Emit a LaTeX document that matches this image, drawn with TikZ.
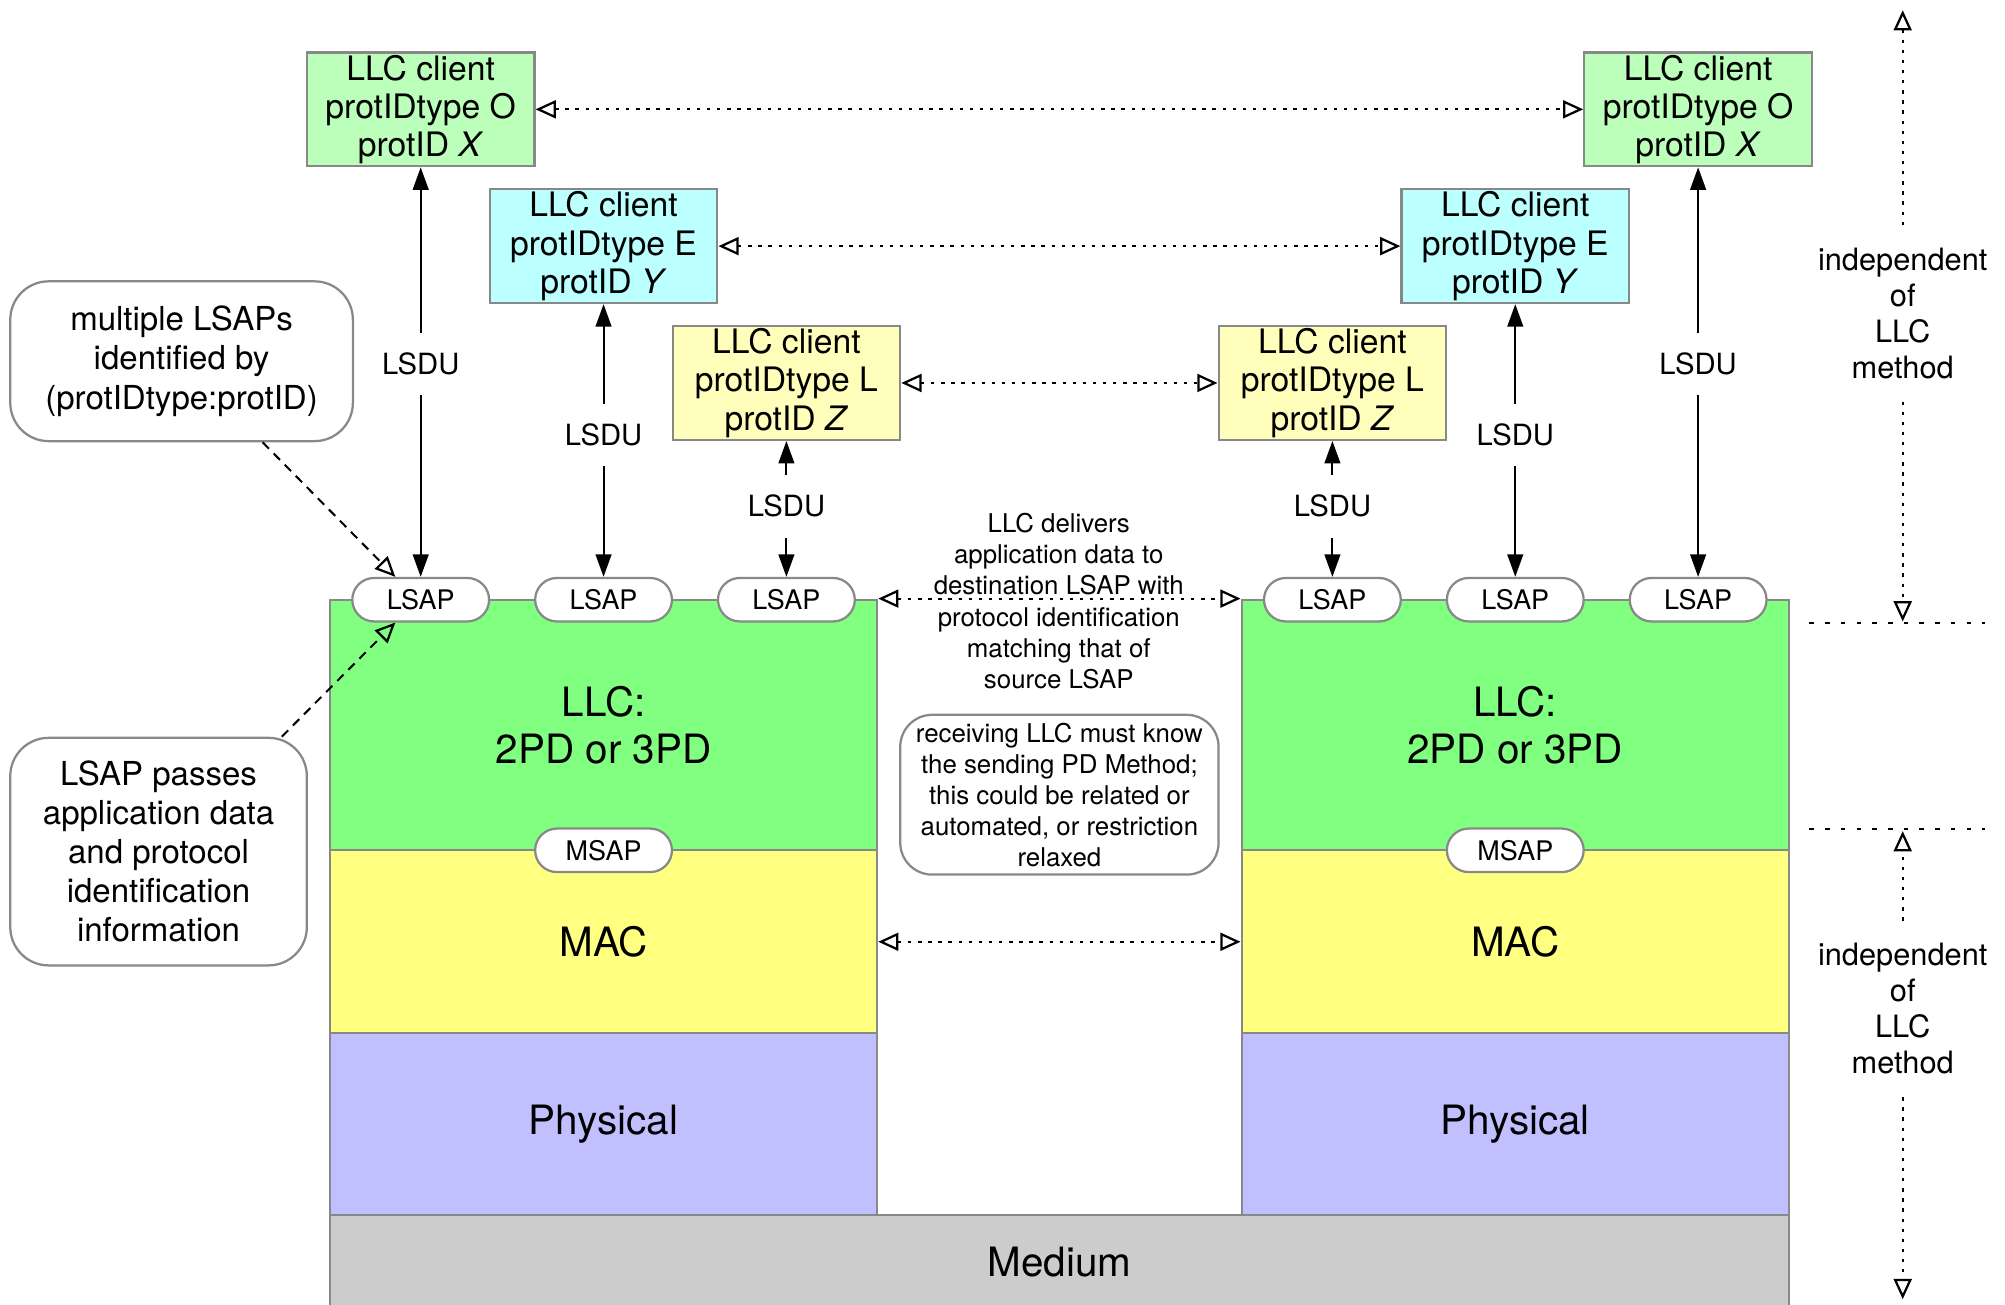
\documentclass[tikz,border=0pt]{standalone}
\usepackage{fontspec}
\setmainfont{TeX Gyre Heros}
\usetikzlibrary{arrows.meta}
\definecolor{edgegray}{HTML}{888888}
\definecolor{cliO}{HTML}{BBFFBB}
\definecolor{cliE}{HTML}{BBFFFF}
\definecolor{cliL}{HTML}{FFFFBB}
\definecolor{llcgreen}{HTML}{80FF80}
\definecolor{macyellow}{HTML}{FFFF80}
\definecolor{phyblue}{HTML}{C0C0FF}
\definecolor{medgray}{HTML}{CCCCCC}
\tikzset{
	client/.style={draw=edgegray, line width=1pt, minimum width=3.56cm, minimum height=1.78cm, align=center, inner sep=0pt, font=\fontsize{15}{17}\selectfont},
	sap/.style={draw=edgegray, line width=1pt, fill=white, rounded corners=0.34cm, minimum width=2.14cm, minimum height=0.68cm, inner sep=0pt, font=\fontsize{12}{14}\selectfont},
	layer/.style={draw=edgegray, line width=1pt, minimum width=8.56cm, align=center, inner sep=0pt, font=\fontsize{18}{21}\selectfont},
	note/.style={draw=edgegray, line width=1pt, fill=white, rounded corners=0.6cm, align=center, inner sep=0pt},
	lsdu/.style={line width=0.9pt, arrows={Triangle[length=10pt,width=7pt]-Triangle[length=10pt,width=7pt]}},
	lsdulabel/.style={fill=white, inner xsep=2pt, inner ysep=9pt, font=\fontsize{13}{15}\selectfont, pos=.52},
	peer/.style={line width=0.9pt, dash pattern=on 1.5pt off 3pt, arrows={Triangle[open,length=9pt,width=8pt,line width=1pt]-Triangle[open,length=9pt,width=8pt,line width=1pt]}},
	indep/.style={line width=0.9pt, dash pattern=on 1.5pt off 3pt, arrows={-Triangle[open,length=9pt,width=8pt,line width=1pt]}},
	callout/.style={line width=0.9pt, dash pattern=on 4pt off 3pt, arrows={-Triangle[open,length=9pt,width=8pt,line width=1pt]}},
	level/.style={line width=0.9pt, dash pattern=on 2pt off 5pt}
}

\begin{document}
\begin{tikzpicture}[x=0.02cm, y=-0.02cm]
	\useasboundingbox (0,0) rectangle (1568,1020);

	% protocol stacks
	\node[layer, fill=medgray, minimum width=22.82cm, minimum height=1.48cm] (medium) at (828.5,987) {Medium};
	\node[layer, fill=llcgreen, minimum height=3.92cm] (llcL) at (472,567) {LLC:\\2PD or 3PD};
	\node[layer, fill=macyellow, minimum height=2.86cm] (macL) at (472,736.5) {MAC};
	\node[layer, fill=phyblue, minimum height=2.84cm] (phyL) at (472,879) {Physical};
	\node[layer, fill=llcgreen, minimum height=3.92cm] (llcR) at (1185,567) {LLC:\\2PD or 3PD};
	\node[layer, fill=macyellow, minimum height=2.86cm] (macR) at (1185,736.5) {MAC};
	\node[layer, fill=phyblue, minimum height=2.84cm] (phyR) at (1185,879) {Physical};

	% service access points
	\node[sap] (lsapLA) at (329,469) {LSAP};
	\node[sap] (lsapLB) at (472,469) {LSAP};
	\node[sap] (lsapLC) at (615,469) {LSAP};
	\node[sap] (lsapRC) at (1042,469) {LSAP};
	\node[sap] (lsapRB) at (1185,469) {LSAP};
	\node[sap] (lsapRA) at (1328,469) {LSAP};
	\node[sap] (msapL) at (472,665) {MSAP};
	\node[sap] (msapR) at (1185,665) {MSAP};

	% LLC clients
	\node[client, fill=cliO] (cliOL) at (329,85.5) {LLC client\\protIDtype O\\protID \textit{X}};
	\node[client, fill=cliE] (cliEL) at (472,192.5) {LLC client\\protIDtype E\\protID \textit{Y}};
	\node[client, fill=cliL] (cliLL) at (615,299.5) {LLC client\\protIDtype L\\protID \textit{Z}};
	\node[client, fill=cliL] (cliLR) at (1042,299.5) {LLC client\\protIDtype L\\protID \textit{Z}};
	\node[client, fill=cliE] (cliER) at (1185,192.5) {LLC client\\protIDtype E\\protID \textit{Y}};
	\node[client, fill=cliO] (cliOR) at (1328,85.5) {LLC client\\protIDtype O\\protID \textit{X}};

	\draw[lsdu] (lsapLA) -- node[lsdulabel] {LSDU} (cliOL);
	\draw[lsdu] (lsapLB) -- node[lsdulabel] {LSDU} (cliEL);
	\draw[lsdu] (lsapLC) -- node[lsdulabel] {LSDU} (cliLL);
	\draw[lsdu] (lsapRC) -- node[lsdulabel] {LSDU} (cliLR);
	\draw[lsdu] (lsapRB) -- node[lsdulabel] {LSDU} (cliER);
	\draw[lsdu] (lsapRA) -- node[lsdulabel] {LSDU} (cliOR);

	% peer relations
	\draw[peer] (cliOL) -- (cliOR);
	\draw[peer] (cliEL) -- (cliER);
	\draw[peer] (cliLL) -- (cliLR);
	\draw[peer] (llcL.north east) -- (llcR.north west);
	\draw[peer] (macL) -- (macR);

	% notes
	\node[align=center, font=\fontsize{11.5}{13.9}\selectfont] (deliv) at (828,470) {LLC delivers\\application data to\\destination LSAP with\\protocol identification\\matching that of\\source LSAP};
	\node[note, rounded corners=0.5cm, minimum width=4.98cm, minimum height=2.5cm, font=\fontsize{11.5}{13.8}\selectfont] (recv) at (828.5,621.5) {receiving LLC must know\\the sending PD Method;\\this could be related or\\automated, or restriction\\relaxed};
	\node[note, minimum width=5.36cm, minimum height=2.5cm, font=\fontsize{14.7}{17.4}\selectfont] (multi) at (142,282.5) {multiple LSAPs\\identified by\\(protIDtype:protID)};
	\node[note, minimum width=4.64cm, minimum height=3.56cm, font=\fontsize{14.7}{17.4}\selectfont] (passes) at (124,666) {LSAP passes\\application data\\and protocol\\identification\\information};
	\draw[callout] (multi.-45) -- (lsapLA.138);
	\draw[callout] (passes.43) -- (lsapLA.-138);

	% right margin
	\draw[level] (1415,487) -- (1552,487);
	\draw[level] (1415,648) -- (1552,648);
	\node[align=center, font=\fontsize{13.7}{16}\selectfont, inner xsep=0pt, inner ysep=10pt] (indepU) at (1488,245) {independent\\of\\LLC\\method};
	\node[align=center, font=\fontsize{13.7}{16}\selectfont, inner xsep=0pt, inner ysep=10pt] (indepD) at (1488,789) {independent\\of\\LLC\\method};
	\coordinate (tipUa) at (1488,8);
	\coordinate (tipUb) at (1488,486);
	\coordinate (tipDa) at (1488,650);
	\coordinate (tipDb) at (1488,1016);
	\draw[indep] (indepU) -- (tipUa);
	\draw[indep] (indepU) -- (tipUb);
	\draw[indep] (indepD) -- (tipDa);
	\draw[indep] (indepD) -- (tipDb);
\end{tikzpicture}
\end{document}
